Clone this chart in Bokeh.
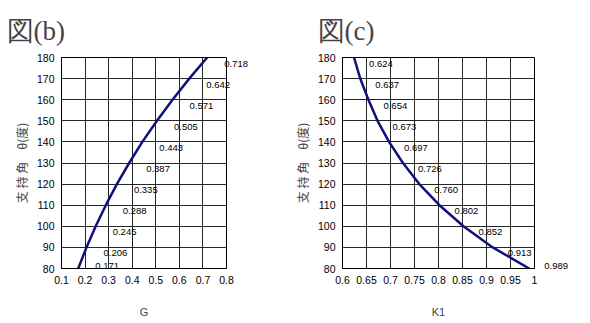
from bokeh.plotting import figure
from bokeh.layouts import row
from bokeh.models import FixedTicker, ColumnDataSource
from bokeh.embed import file_html
from bokeh.resources import INLINE
from bokeh.core.properties import value

theta = [80, 90, 100, 110, 120, 130, 140, 150, 160, 170, 180]
g_vals = [0.171, 0.206, 0.245, 0.288, 0.335, 0.387, 0.443, 0.505, 0.571, 0.642, 0.718]
k1_vals = [0.989, 0.913, 0.852, 0.802, 0.760, 0.726, 0.697, 0.673, 0.654, 0.637, 0.624]
g_labels = ["0.171", "0.206", "0.245", "0.288", "0.335", "0.387", "0.443", "0.505", "0.571", "0.642", "0.718"]
k1_labels = ["0.989", "0.913", "0.852", "0.802", "0.760", "0.726", "0.697", "0.673", "0.654", "0.637", "0.624"]
g_ticks = [0.1, 0.2, 0.3, 0.4, 0.5, 0.6, 0.7, 0.8]
k1_ticks = [0.6, 0.65, 0.7, 0.75, 0.8, 0.85, 0.9, 0.95, 1.0]
theta_ticks = [80, 90, 100, 110, 120, 130, 140, 150, 160, 170, 180]

LINE = "#10107a"
TICK_FONT = "Liberation Sans"
JP_FONT = "Noto Sans CJK JP"


def make(title, xs, labels, xr, xticks, xlabel, fw, bl, br, dx, title_off):
    p = figure(frame_width=fw, frame_height=211, x_range=xr, y_range=(80, 180),
               output_backend="svg", toolbar_location=None,
               min_border_left=bl, min_border_right=br,
               min_border_top=57, min_border_bottom=47)
    p.title.text = title
    p.title.text_font = "Liberation Serif"
    p.title.text_font_size = "27px"
    p.title.text_font_style = "normal"
    p.title.offset = title_off
    p.title.standoff = 20
    p.title.vertical_align = "top"
    p.outline_line_color = "black"
    p.outline_line_width = 1
    for ax in (p.xaxis[0], p.yaxis[0]):
        ax.major_tick_out = 0
        ax.major_tick_in = 0
        ax.minor_tick_out = 0
        ax.minor_tick_in = 0
        ax.axis_line_color = "black"
        ax.major_label_text_font = TICK_FONT
        ax.major_label_text_font_size = "10.5px"
        ax.major_label_text_color = "black"
    p.xaxis.ticker = FixedTicker(ticks=xticks)
    p.yaxis.ticker = FixedTicker(ticks=theta_ticks)
    p.xaxis.major_label_overrides = {t: ("%g" % t) for t in xticks}
    p.xaxis.major_label_standoff = 7
    p.yaxis.major_label_standoff = 7
    p.xaxis.axis_label = xlabel
    p.xaxis.axis_label_text_font = TICK_FONT
    p.xaxis.axis_label_text_font_size = "11px"
    p.xaxis.axis_label_text_font_style = "normal"
    p.xaxis.axis_label_standoff = 19
    p.yaxis.axis_label = "支 持 角　θ(度)"
    p.yaxis.axis_label_text_font = JP_FONT
    p.yaxis.axis_label_text_font_size = "12px"
    p.yaxis.axis_label_text_font_style = "normal"
    p.yaxis.axis_label_standoff = 4
    p.xgrid.grid_line_color = "black"
    p.ygrid.grid_line_color = "black"
    p.xgrid.grid_line_alpha = 0.85
    p.ygrid.grid_line_alpha = 0.85
    p.line(xs, theta, line_color=LINE, line_width=2.5)
    yoffs = [-3 if t == 80 else 6 for t in theta]
    src = ColumnDataSource(dict(x=xs, y=theta, t=labels, yo=yoffs))
    p.text(x="x", y="y", text="t", source=src, x_offset=dx, y_offset="yo",
           text_font=value(TICK_FONT), text_font_size="9.5px", text_color="black",
           text_align="left", text_baseline="middle", level="overlay")
    return p


p1 = make("図(b)", g_vals, g_labels, (0.1, 0.8), g_ticks, "G", 165, 61, 56, 17, -55)
p2 = make("図(c)", k1_vals, k1_labels, (0.6, 1.0), k1_ticks, "K1", 192, 60, 40, 15, -25)
layout = row(p1, p2)
open("out.html", "w").write(file_html(layout, INLINE))
